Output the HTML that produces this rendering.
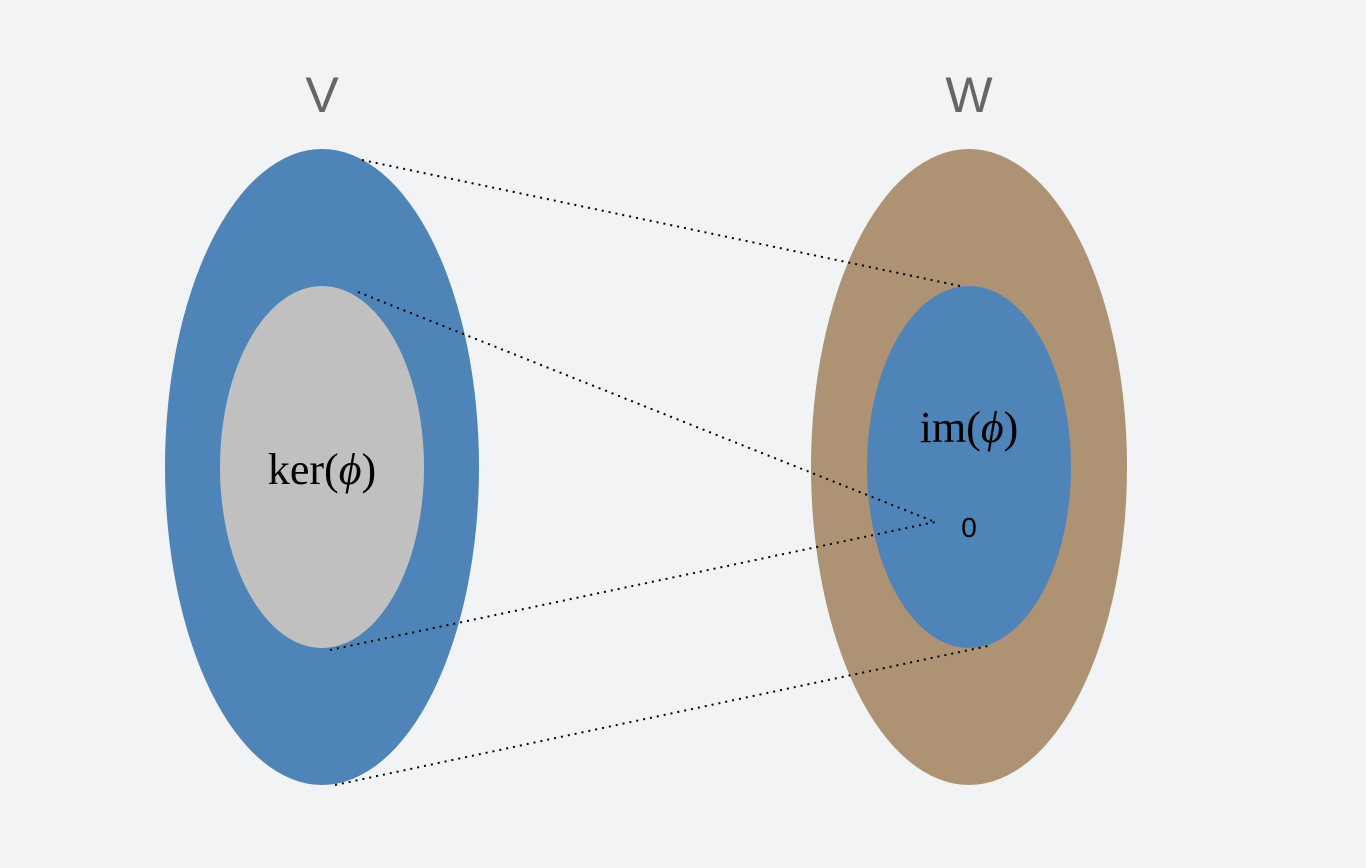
<!DOCTYPE html>
<html><head><meta charset="utf-8"><style>
html,body{margin:0;padding:0;background:#f2f3f5;}
svg{display:block}
</style></head><body>
<svg width="1366" height="868" viewBox="0 0 1366 868">
<rect x="0" y="0" width="1366" height="868" fill="#f2f3f5"/>
<ellipse cx="322" cy="467" rx="157" ry="318" fill="#4f84b8"/>
<ellipse cx="322" cy="467" rx="102" ry="181" fill="#c0c0c0"/>
<ellipse cx="969" cy="467" rx="158" ry="318" fill="#ad9373"/>
<ellipse cx="969" cy="467" rx="102" ry="181" fill="#4f84b8"/>
<g stroke="#000" stroke-width="2" stroke-dasharray="2 5" fill="none">
<line x1="362" y1="160" x2="960" y2="286"/>
<line x1="358" y1="292" x2="935" y2="522"/>
<line x1="330" y1="650" x2="935" y2="522"/>
<line x1="335" y1="785" x2="988" y2="646"/>
</g>
<text x="322" y="112" text-anchor="middle" font-family="Liberation Sans, sans-serif" font-size="50" fill="#666">V</text>
<text x="969" y="112" text-anchor="middle" font-family="Liberation Sans, sans-serif" font-size="50" fill="#666">W</text>
<text x="322" y="484" text-anchor="middle" font-family="Liberation Serif, serif" font-size="44" fill="#000">ker(<tspan font-style="italic">ϕ</tspan>)</text>
<text x="969" y="442" text-anchor="middle" font-family="Liberation Serif, serif" font-size="44" fill="#000">im(<tspan font-style="italic">ϕ</tspan>)</text>
<text x="969" y="537" text-anchor="middle" font-family="Liberation Sans, sans-serif" font-size="28" fill="#000">0</text>
</svg>
</body></html>
